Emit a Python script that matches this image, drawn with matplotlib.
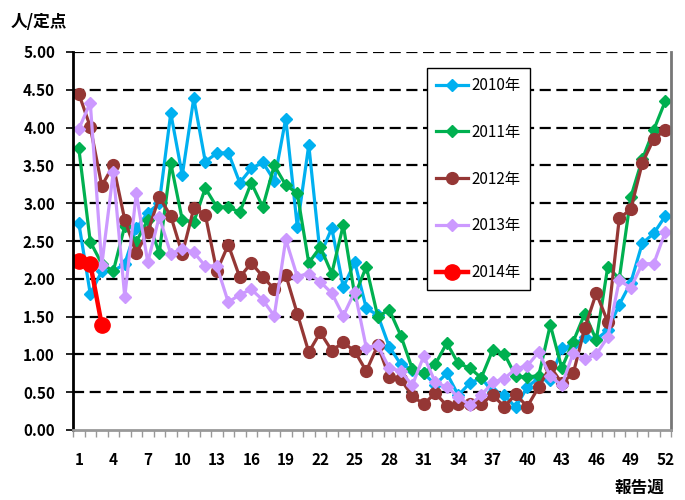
import matplotlib.pyplot as plt
import numpy as np

plt.rcParams['font.family'] = ['Noto Sans CJK JP', 'DejaVu Sans']

weeks = list(range(1, 53))

y2010 = [2.74, 1.80, 2.10, 2.10, 2.20, 2.67, 2.87, 3.00, 4.19, 3.37,
         4.39, 3.55, 3.66, 3.67, 3.27, 3.46, 3.54, 3.30, 4.12, 2.69,
         3.77, 2.31, 2.67, 1.89, 2.22, 1.61, 1.52, 1.10, 0.87, 0.80,
         0.75, 0.60, 0.75, 0.46, 0.62, 0.69, 0.50, 0.46, 0.30, 0.57,
         0.69, 0.66, 1.08, 1.12, 1.23, 1.20, 1.32, 1.66, 1.95, 2.47,
         2.60, 2.83]
y2011 = [3.73, 2.49, 2.20, 2.10, 2.70, 2.49, 2.78, 2.34, 3.53, 2.78,
         2.75, 3.20, 2.95, 2.95, 2.88, 3.27, 2.95, 3.50, 3.24, 3.13,
         2.21, 2.42, 2.07, 2.71, 1.78, 2.16, 1.50, 1.59, 1.25, 0.81,
         0.75, 0.87, 1.15, 0.88, 0.82, 0.69, 1.06, 1.01, 0.71, 0.70,
         0.72, 1.39, 0.82, 1.17, 1.54, 1.19, 2.16, 2.00, 3.08, 3.58,
         3.97, 4.35]
y2012 = [4.45, 4.01, 3.23, 3.50, 2.78, 2.34, 2.62, 3.08, 2.83, 2.33,
         2.93, 2.85, 2.10, 2.45, 2.02, 2.21, 2.03, 1.86, 2.05, 1.54,
         1.03, 1.29, 1.05, 1.16, 1.04, 0.78, 1.12, 0.70, 0.67, 0.45,
         0.34, 0.49, 0.32, 0.35, 0.34, 0.35, 0.46, 0.31, 0.47, 0.31,
         0.57, 0.84, 0.62, 0.75, 1.35, 1.81, 1.43, 2.80, 2.92, 3.53,
         3.85, 3.97]
y2013 = [3.98, 4.33, 2.18, 3.41, 1.76, 3.13, 2.22, 2.82, 2.33, 2.40,
         2.35, 2.17, 2.17, 1.69, 1.79, 1.86, 1.72, 1.51, 2.52, 2.03,
         2.07, 1.96, 1.81, 1.51, 1.83, 1.09, 1.12, 0.82, 0.78, 0.59,
         0.98, 0.63, 0.57, 0.44, 0.33, 0.46, 0.63, 0.68, 0.81, 0.85,
         1.03, 0.71, 0.59, 1.02, 0.94, 1.00, 1.23, 1.98, 1.88, 2.20,
         2.20, 2.62]
y2014 = [2.24, 2.20, 1.39]

xtick_labels = [str(w) for w in range(1, 53, 3)]

fig = plt.figure(figsize=(6.85, 5.0), dpi=100)
ax = fig.add_axes([0.1066, 0.14, 0.873, 0.756])

ax.plot(weeks, y2010, color='#00B0F0', lw=2.3, marker='D', ms=6.5, label='2010年')
ax.plot(weeks, y2011, color='#00B050', lw=2.3, marker='D', ms=6.5, label='2011年')
ax.plot(weeks, y2012, color='#953735', lw=2.3, marker='o', ms=8.5, label='2012年')
ax.plot(weeks, y2013, color='#CC99FF', lw=2.3, marker='D', ms=6.5, label='2013年')
ax.plot(weeks[:len(y2014)], y2014, color='#FF0000', lw=3.2, marker='o', ms=11, label='2014年')

ax.set_xlim(0.5, 52.5)
ax.set_ylim(0, 5)
ax.set_yticks(np.arange(0, 5.01, 0.5))
ax.set_yticklabels(['%.2f' % v for v in np.arange(0, 5.01, 0.5)],
                   fontsize=11, fontweight='bold')
ax.set_xticks(range(1, 53, 3))
ax.set_xticklabels(xtick_labels, fontsize=11, fontweight='bold')
ax.set_xticks(np.arange(0.5, 53, 1), minor=True)
ax.tick_params(axis='x', which='major', length=0, pad=16)
ax.tick_params(axis='x', which='minor', length=5, color='#999999', width=1)
ax.tick_params(axis='y', length=5, width=1.2, color='black', pad=8)

for v in np.arange(0.5, 5.01, 0.5):
    ax.axhline(v, color='black', lw=1.6, ls=(0, (5, 2.5)), zorder=0)

ax.spines['top'].set_visible(False)
ax.spines['left'].set_linewidth(2)
ax.spines['bottom'].set_color('#999999')
ax.spines['bottom'].set_linewidth(2)
ax.spines['right'].set_color('#777777')
ax.spines['right'].set_linewidth(2)

leg = ax.legend(loc='upper left', bbox_to_anchor=(0.592, 0.958), fontsize=11,
                frameon=True, fancybox=False, edgecolor='black', framealpha=1,
                handlelength=2.1, labelspacing=1.95, borderpad=0.6,
                borderaxespad=0, handletextpad=0.2)
leg.get_frame().set_linewidth(1.0)

fig.text(0.015, 0.955, '人/定点', fontsize=12, fontweight='bold', ha='left', va='center')
fig.text(0.97, 0.025, '報告週', fontsize=12, fontweight='bold', ha='right', va='center')

fig.savefig('out.png', dpi=100)
